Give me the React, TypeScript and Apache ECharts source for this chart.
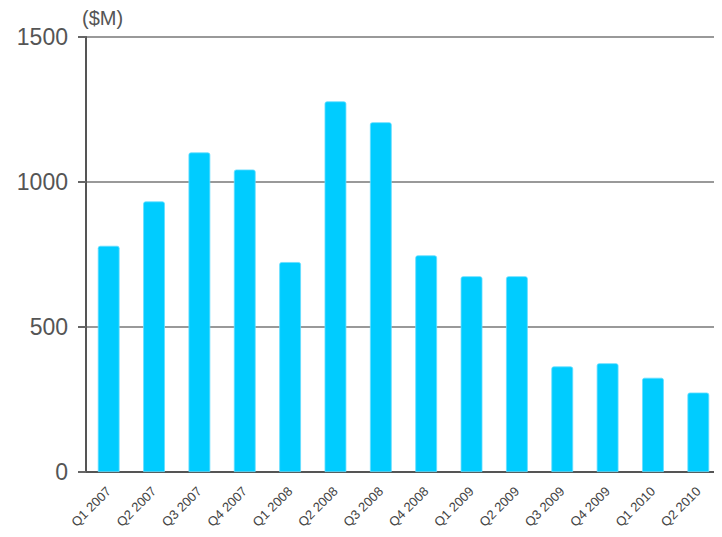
import React, { useEffect, useRef } from "react";
import * as echarts from "echarts";

// Quarterly values in $M
const quarters = [
  "Q1 2007", "Q2 2007", "Q3 2007", "Q4 2007",
  "Q1 2008", "Q2 2008", "Q3 2008", "Q4 2008",
  "Q1 2009", "Q2 2009", "Q3 2009", "Q4 2009",
  "Q1 2010", "Q2 2010",
];
const amounts = [780, 933, 1102, 1043, 724, 1278, 1206, 747, 675, 675, 364, 375, 325, 274];
const yTicks = [0, 500, 1000, 1500];
const unitLabel = "($M)";

const FONT = "'Liberation Sans', Arial, sans-serif";

export default function App() {
  const ref = useRef<HTMLDivElement>(null);

  useEffect(() => {
    if (!ref.current) return;
    const chart = echarts.init(ref.current, undefined, { renderer: "svg" });
    chart.setOption({
      animation: false,
      backgroundColor: "#ffffff",
      textStyle: { fontFamily: FONT },
      grid: { left: 86, right: 1, top: 37, bottom: 65, containLabel: false },
      graphic: [
        {
          type: "text",
          left: 82,
          top: 8,
          style: { text: unitLabel, font: `20px ${FONT}`, fill: "#555555" },
        },
        {
          type: "line",
          shape: { x1: 720.5, y1: 37, x2: 720.5, y2: 472 },
          style: { stroke: "#d0d0d0", lineWidth: 1 },
        },
      ],
      xAxis: {
        type: "category",
        data: quarters,
        axisLine: { show: true, lineStyle: { color: "#555555", width: 2 } },
        axisTick: { show: false },
        axisLabel: {
          rotate: 45,
          interval: 0,
          margin: 17,
          color: "#444444",
          fontSize: 13,
          fontFamily: FONT,
        },
      },
      yAxis: {
        type: "value",
        min: yTicks[0],
        max: yTicks[yTicks.length - 1],
        interval: 500,
        axisLine: { show: true, lineStyle: { color: "#555555", width: 2 } },
        axisTick: { show: true, length: 8, lineStyle: { color: "#666666", width: 2 } },
        axisLabel: {
          margin: 18,
          color: "#555555",
          fontSize: 23,
          fontFamily: FONT,
          formatter: (v: number) => String(v),
        },
        splitLine: { show: true, lineStyle: { color: "#777777", width: 1.5 } },
      },
      series: [
        {
          type: "bar",
          data: amounts,
          barWidth: "48%",
          z: 1,
          itemStyle: {
            color: "#00CCFF",
            borderColor: "#66DDFF",
            borderWidth: 0.8,
            borderRadius: [2, 2, 0, 0],
          },
        },
      ],
    });
    return () => chart.dispose();
  }, []);

  return <div ref={ref} style={{ width: 722, height: 537, margin: -8 }} />;
}
